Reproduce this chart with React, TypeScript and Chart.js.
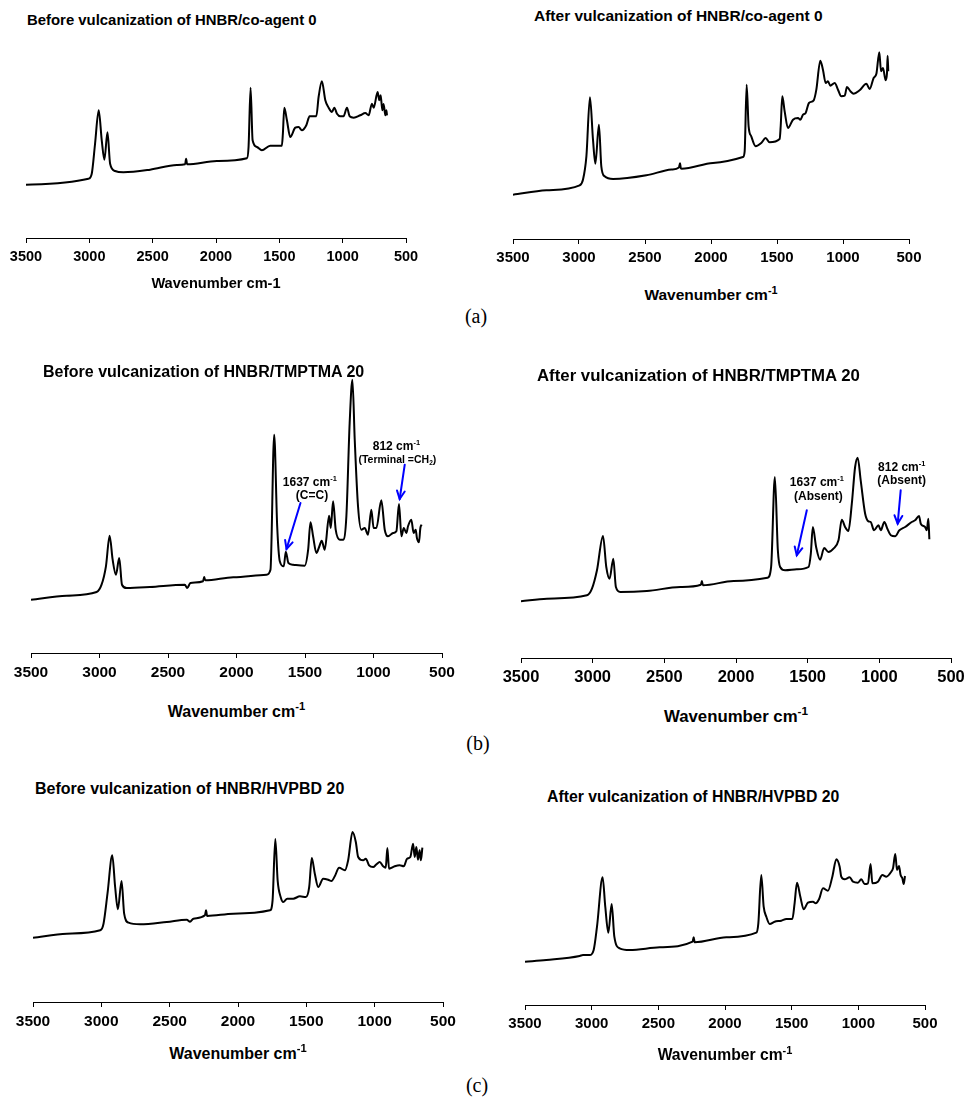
import React, { useEffect, useRef } from "react";
import { Chart, registerables } from "chart.js";

Chart.register(...registerables);

type Pt = [number, number];

// ---------- DATA (wavenumber cm-1, absorbance a.u.) ----------
const xTickValues = [3500, 3000, 2500, 2000, 1500, 1000, 500];

const beforeCoagent0: Pt[] = [
  [3500, 53.3], [3007, 59.3], [2981, 64.3], [2955, 94], [2926, 127.7], [2902, 97.7], [2881, 78.3],
  [2857, 105.7], [2836, 74.3], [2797, 67], [2731, 65.7], [2520, 68.3], [2309, 73], [2244, 73.7],
  [2236, 79.3], [2228, 73.7], [1993, 77], [1756, 79.7], [1743, 91], [1727, 150.3], [1711, 97.7],
  [1677, 91], [1638, 87.7], [1572, 92.3], [1480, 92.3], [1472, 104.3], [1461, 130.3], [1440, 117.7],
  [1414, 101], [1374, 110.3], [1348, 111], [1322, 107.7], [1287, 112.7], [1261, 121.7], [1208, 121.7],
  [1190, 141], [1164, 156.7], [1137, 137.7], [1111, 130.3], [1085, 126], [1066, 130.3], [1045, 124.3],
  [1019, 121.7], [993, 121.7], [966, 130.3], [945, 121.7], [913, 120.3], [861, 122.7], [821, 125],
  [795, 122.7], [769, 134.3], [755, 130.3], [724, 146], [711, 137.7], [700, 142.7], [687, 127.7],
  [677, 134], [663, 122.7], [655, 127.7], [650, 122.7],
];

const afterCoagent0: Pt[] = [
  [3500, 44.3], [3247, 48.7], [2995, 53.7], [2970, 59.3], [2944, 82.7], [2917, 141.7], [2894, 99.3],
  [2876, 75.3], [2849, 114.3], [2831, 72.7], [2806, 62.7], [2742, 60], [2490, 63.7], [2300, 69.5],
  [2243, 71.5], [2235, 75.7], [2228, 70.5], [2222, 70.3], [1985, 76], [1758, 82], [1745, 87.7],
  [1730, 154.3], [1715, 112.7],
  [1695, 102.7], [1662, 92.7], [1619, 96], [1586, 101], [1556, 96.7], [1480, 100], [1472, 112.7],
  [1460, 142.7], [1442, 127.7], [1417, 111], [1379, 119.3], [1341, 121], [1323, 119.3], [1303, 124.3],
  [1283, 126], [1258, 136], [1222, 138.7], [1202, 149.3], [1172, 178.3], [1152, 169.3], [1131, 156],
  [1114, 157.7], [1096, 153.3], [1063, 156], [1038, 149.3], [1013, 142.7], [987, 143.3], [970, 152],
  [944, 147.7], [919, 145.3], [874, 148.7], [823, 155.3], [798, 150], [768, 161], [747, 165.3],
  [725, 186.7], [712, 167.7], [697, 171], [677, 158.7], [667, 165.3], [662, 183.3], [657, 167.7],
];

const beforeTmptma20: Pt[] = [
  [3500, 53.3], [3240, 57.3], [3021, 61], [2985, 68.3], [2953, 86.7], [2926, 117.3], [2904, 93.3],
  [2880, 78.3], [2856, 95], [2836, 68.3], [2802, 65], [2632, 66], [2377, 68.3], [2360, 65], [2336, 70],
  [2244, 71.7], [2236, 76], [2228, 72.7], [2024, 75.7], [1781, 78.3], [1752, 83.3], [1725, 218.3],
  [1703, 126.7], [1684, 91.7], [1655, 86.7], [1640, 101.3], [1621, 90], [1587, 88.3], [1502, 87.3],
  [1477, 103.3], [1460, 130.7], [1441, 116.7], [1417, 100], [1397, 106], [1378, 112.3], [1356, 103.3],
  [1324, 137.3], [1312, 125], [1295, 151.7], [1276, 123.3], [1246, 113.3], [1222, 113.3], [1198, 136.7],
  [1174, 230], [1154, 273.3], [1137, 213.3], [1113, 146.7], [1089, 123.3], [1064, 125], [1040, 118.3],
  [1016, 143.3], [999, 125], [979, 125], [943, 152.7], [918, 123.3], [894, 116.7], [857, 120],
  [833, 121.7], [814, 149], [796, 116.7], [779, 125], [760, 120], [748, 126.7], [724, 133.3],
  [707, 120], [692, 123.3], [683, 115], [668, 110.7], [658, 125], [649, 128.3],
];

const afterTmptma20: Pt[] = [
  [3500, 56.7], [3319, 59.3], [3040, 62.7], [3005, 69.3], [2970, 87.7], [2928, 122], [2905, 91],
  [2882, 79.3], [2856, 99.3], [2838, 71], [2807, 66], [2622, 67], [2389, 71], [2245, 73.3], [2238, 77],
  [2231, 72.7], [2017, 77], [1780, 80.3], [1755, 91], [1729, 181], [1708, 107.7], [1692, 91],
  [1657, 87.7], [1576, 88.7], [1494, 91], [1478, 104.3], [1464, 131], [1441, 111], [1413, 98.3],
  [1385, 110], [1355, 106], [1320, 109.3], [1285, 117.7], [1262, 138.3], [1239, 131], [1216, 127],
  [1192, 154.3], [1169, 191], [1151, 200.3], [1130, 177.7], [1099, 144.3], [1076, 136.7], [1060, 136],
  [1037, 127.7], [1006, 132.7], [990, 127.7], [965, 136], [944, 129.3], [920, 122.7], [890, 121.7],
  [860, 127.7], [820, 131], [774, 136], [751, 137.7], [723, 142], [711, 134.3], [681, 131],
  [669, 127.7], [658, 139.3], [651, 118.7],
];

const beforeHvpbd20: Pt[] = [
  [3500, 64.3], [3252, 68.3], [3008, 71.7], [2984, 78.3], [2955, 108.3], [2920, 146.7], [2899, 115],
  [2879, 92.7], [2852, 121], [2833, 88.3], [2801, 79.3], [2716, 77.7], [2521, 80], [2375, 82.3],
  [2351, 80.3], [2326, 83.3], [2242, 86.7], [2234, 91.7], [2226, 86], [2034, 88.3], [1766, 91.7],
  [1747, 101.7], [1727, 163], [1710, 121.7], [1688, 105], [1669, 100], [1640, 103.3], [1596, 103.3],
  [1547, 105.7], [1503, 105], [1479, 115], [1460, 144], [1438, 128.3], [1413, 115], [1377, 123.3],
  [1340, 122.3], [1316, 121], [1292, 125.7], [1260, 134.3], [1218, 131.7], [1194, 141.7], [1162, 170],
  [1138, 160], [1121, 145], [1084, 141.7], [1065, 143.3], [1041, 136.7], [1011, 135], [987, 137.7],
  [963, 140], [938, 135.7], [919, 134.3], [907, 154], [895, 133.3], [853, 135.7], [817, 136.7],
  [787, 135.7], [763, 143.3], [739, 145], [719, 158.3], [707, 145], [695, 155], [683, 142.3],
  [671, 151.7], [662, 141.7], [651, 154.3],
];

const afterHvpbd20: Pt[] = [
  [3500, 43.3], [3340, 45], [3090, 49], [3065, 50], [3015, 50], [2985, 55], [2960, 78.3], [2918, 127.7],
  [2898, 98.3], [2875, 72.3], [2850, 101], [2830, 68.3], [2790, 56.7], [2715, 55], [2490, 57.7],
  [2243, 63.3], [2235, 67.7], [2227, 62.7], [1990, 67.7], [1765, 72.3], [1750, 81.7], [1728, 130],
  [1710, 98.3], [1690, 88.3], [1665, 81], [1628, 83.3], [1578, 84.3], [1540, 86], [1495, 86],
  [1478, 101.7], [1460, 122.3], [1435, 108.3], [1410, 95.7], [1378, 102.3], [1340, 103.3], [1320, 101.7],
  [1295, 105.7], [1265, 116.7], [1228, 114.3], [1195, 128.3], [1165, 145.7], [1140, 138.3], [1128, 128.3],
  [1103, 125.7], [1065, 127.7], [1040, 123.3], [1003, 122.3], [978, 125.7], [953, 121], [928, 121.7],
  [908, 141], [895, 121.7], [853, 123.3], [820, 130], [790, 128.3], [753, 133.3], [740, 136.7],
  [723, 151], [710, 135], [695, 139], [683, 130], [670, 126.7], [660, 121], [650, 129],
];

// ---------- LAYOUT / STYLE ----------
const FONT = '"Liberation Sans", Arial, Helvetica, sans-serif';
const SERIF = '"Liberation Serif", "Times New Roman", Times, serif';
const PAD_L = 30;
const PAD_R = 30;
const PAD_T = 4;
const SCALE_H = 40;

type Seg = { t: string; k?: "sup" | "sub" };
type NoteLine = { segs: Seg[]; x: number; y: number; fs: number };
type Note = { lines: NoteLine[]; from: Pt; to: Pt };

type Panel = {
  data: Pt[];
  x0: number; x1: number; yAxis: number; H: number; tickFs: number;
  title: string; titleX: number; titleY: number; titleFs: number;
  axisSup: boolean; axisFs: number; axisY: number;
  notes: Note[];
};

const panels: Panel[] = [
  {
    data: beforeCoagent0, x0: 26, x1: 406, yAxis: 238, H: 175, tickFs: 14.5,
    title: "Before vulcanization of HNBR/co-agent 0", titleX: 27, titleY: 20, titleFs: 14.9,
    axisSup: false, axisFs: 14.6, axisY: 283, notes: [],
  },
  {
    data: afterCoagent0, x0: 513, x1: 909, yAxis: 239, H: 200, tickFs: 15,
    title: "After vulcanization of HNBR/co-agent 0", titleX: 534, titleY: 16, titleFs: 15.5,
    axisSup: true, axisFs: 15.5, axisY: 295, notes: [],
  },
  {
    data: beforeTmptma20, x0: 31, x1: 442, yAxis: 653, H: 290, tickFs: 15.5,
    title: "Before vulcanization of HNBR/TMPTMA 20", titleX: 43, titleY: 372, titleFs: 16,
    axisSup: true, axisFs: 16, axisY: 712,
    notes: [
      {
        lines: [
          { segs: [{ t: "1637 cm" }, { t: "-1", k: "sup" }], x: 1465, y: 171.6, fs: 12 },
          { segs: [{ t: "(C=C)" }], x: 1449, y: 158.3, fs: 12 },
        ],
        from: [1533, 150], to: [1635, 104],
      },
      {
        lines: [
          { segs: [{ t: "812 cm" }, { t: "-1", k: "sup" }], x: 833, y: 207.3, fs: 12 },
          { segs: [{ t: "(Terminal =CH" }, { t: "2", k: "sub" }, { t: ")" }], x: 826, y: 194, fs: 10.5 },
        ],
        from: [772, 188.3], to: [809, 154],
      },
    ],
  },
  {
    data: afterTmptma20, x0: 521, x1: 951, yAxis: 658, H: 215, tickFs: 16.5,
    title: "After vulcanization of HNBR/TMPTMA 20", titleX: 537, titleY: 376, titleFs: 16.8,
    axisSup: true, axisFs: 16.8, axisY: 717,
    notes: [
      {
        lines: [
          { segs: [{ t: "1637 cm" }, { t: "-1", k: "sup" }], x: 1436, y: 176, fs: 12 },
          { segs: [{ t: "(Absent)" }], x: 1425, y: 162.7, fs: 12 },
        ],
        from: [1506, 147.7], to: [1576, 102.7],
      },
      {
        lines: [
          { segs: [{ t: "812 cm" }, { t: "-1", k: "sup" }], x: 844, y: 191.7, fs: 12 },
          { segs: [{ t: "(Absent)" }], x: 844, y: 178.4, fs: 12 },
        ],
        from: [851, 167.7], to: [872, 134.3],
      },
    ],
  },
  {
    data: beforeHvpbd20, x0: 33, x1: 443, yAxis: 1002, H: 185, tickFs: 15.5,
    title: "Before vulcanization of HNBR/HVPBD 20", titleX: 35, titleY: 789, titleFs: 16,
    axisSup: true, axisFs: 16, axisY: 1054, notes: [],
  },
  {
    data: afterHvpbd20, x0: 525, x1: 925, yAxis: 1005, H: 165, tickFs: 15,
    title: "After vulcanization of HNBR/HVPBD 20", titleX: 547, titleY: 797, titleFs: 15.8,
    axisSup: true, axisFs: 15.7, axisY: 1055, notes: [],
  },
];

const figLabels = [
  { text: "(a)", x: 476, y: 316 },
  { text: "(b)", x: 478, y: 743 },
  { text: "(c)", x: 477, y: 1085 },
];

function drawRich(ctx: CanvasRenderingContext2D, segs: Seg[], cx: number, cy: number, fs: number) {
  const fontFor = (s: Seg) => `bold ${s.k ? fs * 0.62 : fs}px ${FONT}`;
  let total = 0;
  const widths = segs.map((s) => {
    ctx.font = fontFor(s);
    const w = ctx.measureText(s.t).width;
    total += w;
    return w;
  });
  let x = cx - total / 2;
  const base = cy + fs * 0.36;
  ctx.fillStyle = "#000";
  ctx.textAlign = "left";
  ctx.textBaseline = "alphabetic";
  segs.forEach((s, i) => {
    ctx.font = fontFor(s);
    let y = base;
    if (s.k === "sup") y = base - fs * 0.42;
    if (s.k === "sub") y = base + fs * 0.22;
    ctx.fillText(s.t, x, y);
    x += widths[i];
  });
}

function Spectrum({ p }: { p: Panel }) {
  const ref = useRef<HTMLCanvasElement>(null);
  const left = p.x0 - PAD_L;
  const width = p.x1 - p.x0 + PAD_L + PAD_R;
  const top = p.yAxis - p.H - PAD_T;
  const height = PAD_T + p.H + SCALE_H;

  useEffect(() => {
    if (!ref.current) return;
    const notesPlugin = {
      id: "notes",
      afterDatasetsDraw(chart: any) {
        const { ctx, scales } = chart;
        const xs = scales.x;
        const ys = scales.y;
        ctx.save();
        for (const n of p.notes) {
          for (const ln of n.lines) {
            drawRich(ctx, ln.segs, xs.getPixelForValue(ln.x), ys.getPixelForValue(ln.y), ln.fs);
          }
          const ax = xs.getPixelForValue(n.from[0]);
          const ay = ys.getPixelForValue(n.from[1]);
          const bx = xs.getPixelForValue(n.to[0]);
          const by = ys.getPixelForValue(n.to[1]);
          ctx.strokeStyle = "#0000ff";
          ctx.lineWidth = 2;
          ctx.lineCap = "round";
          ctx.beginPath();
          ctx.moveTo(ax, ay);
          ctx.lineTo(bx, by);
          ctx.stroke();
          const ang = Math.atan2(by - ay, bx - ax);
          const L = 9;
          const a = 0.45;
          ctx.beginPath();
          ctx.moveTo(bx - L * Math.cos(ang - a), by - L * Math.sin(ang - a));
          ctx.lineTo(bx, by);
          ctx.lineTo(bx - L * Math.cos(ang + a), by - L * Math.sin(ang + a));
          ctx.stroke();
        }
        ctx.restore();
      },
    };

    const chart = new Chart(ref.current, {
      type: "line",
      data: {
        datasets: [
          {
            data: p.data.map(([x, y]) => ({ x, y })),
            borderColor: "#000",
            borderWidth: 2,
            pointRadius: 0,
            cubicInterpolationMode: "monotone",
            fill: false,
          },
        ],
      },
      options: {
        animation: false,
        responsive: false,
        maintainAspectRatio: false,
        layout: { padding: { left: PAD_L, right: PAD_R, top: PAD_T, bottom: 0 } },
        plugins: { legend: { display: false }, tooltip: { enabled: false }, title: { display: false } },
        scales: {
          x: {
            type: "linear",
            reverse: true,
            min: 500,
            max: 3500,
            afterBuildTicks: (s: any) => {
              s.ticks = xTickValues.map((v) => ({ value: v }));
            },
            afterFit: (s: any) => {
              s.height = SCALE_H;
            },
            ticks: {
              callback: (v: any) => String(v),
              color: "#000",
              font: { family: FONT, size: p.tickFs, weight: "bold" },
              padding: 5,
              maxRotation: 0,
              autoSkip: false,
            },
            grid: { drawOnChartArea: false, drawTicks: true, tickLength: 5, color: "#000", lineWidth: 1 },
            border: { display: true, color: "#000", width: 1 },
          },
          y: { display: false, min: 0, max: p.H },
        },
      } as any,
      plugins: [notesPlugin],
    });
    return () => chart.destroy();
  }, []);

  return (
    <canvas
      ref={ref}
      width={width}
      height={height}
      style={{ position: "absolute", left, top, width, height }}
    />
  );
}

export default function App() {
  return (
    <div
      style={{
        position: "absolute",
        left: 0,
        top: 0,
        width: 966,
        height: 1097,
        overflow: "hidden",
        background: "#fff",
      }}
    >
      {panels.map((p, i) => (
        <Spectrum key={"c" + i} p={p} />
      ))}
      {panels.map((p, i) => (
        <div
          key={"t" + i}
          style={{
            position: "absolute",
            left: p.titleX,
            top: p.titleY - p.titleFs * 0.5,
            font: `bold ${p.titleFs}px ${FONT}`,
            lineHeight: `${p.titleFs}px`,
            whiteSpace: "nowrap",
            color: "#000",
          }}
        >
          {p.title}
        </div>
      ))}
      {panels.map((p, i) => (
        <div
          key={"a" + i}
          style={{
            position: "absolute",
            left: (p.x0 + p.x1) / 2 - 150,
            width: 300,
            textAlign: "center",
            top: p.axisY - p.axisFs * 0.5,
            font: `bold ${p.axisFs}px ${FONT}`,
            lineHeight: `${p.axisFs}px`,
            whiteSpace: "nowrap",
            color: "#000",
          }}
        >
          {p.axisSup ? (
            <>
              Wavenumber cm
              <span style={{ fontSize: "0.7em", position: "relative", top: "-0.6em" }}>-1</span>
            </>
          ) : (
            "Wavenumber cm-1"
          )}
        </div>
      ))}
      {figLabels.map((l, i) => (
        <div
          key={"l" + i}
          style={{
            position: "absolute",
            left: l.x - 40,
            width: 80,
            textAlign: "center",
            top: l.y - 11,
            font: `20px ${SERIF}`,
            lineHeight: "22px",
            color: "#000",
          }}
        >
          {l.text}
        </div>
      ))}
    </div>
  );
}
